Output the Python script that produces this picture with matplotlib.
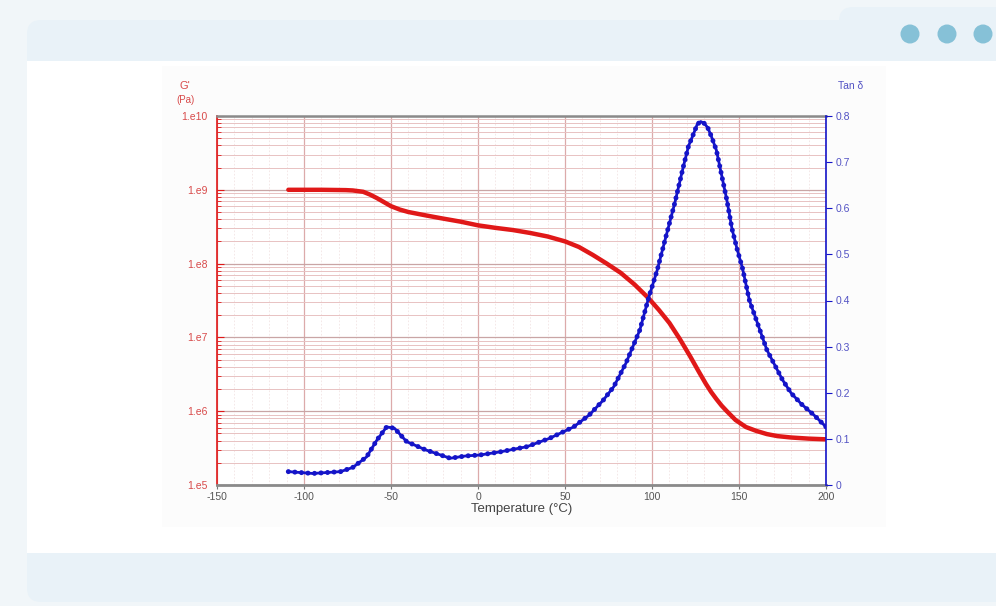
import matplotlib
matplotlib.use("Agg")
import matplotlib.pyplot as plt
from matplotlib.patches import FancyBboxPatch, Rectangle, Circle
from matplotlib.ticker import FixedLocator, NullFormatter, MultipleLocator

plt.rcParams["font.family"] = ["Liberation Sans", "DejaVu Sans"]

# --- Data ---
temp_g = [-109, -90, -76, -72, -66, -62, -58, -54, -50, -45, -40, -30, -22,
          -10, 0, 10, 20, 30, 40, 50, 58, 66, 74, 82, 90, 98, 104, 110, 116,
          122, 127, 131, 134, 137, 140, 143, 148, 154, 160, 166, 172, 180,
          190, 200]
g_prime = [1.0e9, 1.0e9, 9.9e8, 9.8e8, 9.4e8, 8.6e8, 7.7e8, 6.8e8, 6.0e8,
           5.4e8, 5.0e8, 4.5e8, 4.15e8, 3.7e8, 3.3e8, 3.05e8, 2.85e8, 2.6e8,
           2.33e8, 2.0e8, 1.68e8, 1.31e8, 1.0e8, 7.5e7, 5.2e7, 3.4e7, 2.35e7,
           1.57e7, 9.5e6, 5.5e6, 3.4e6, 2.34e6, 1.82e6, 1.46e6, 1.19e6,
           1.0e6, 7.6e5, 6.1e5, 5.4e5, 4.9e5, 4.6e5, 4.4e5, 4.25e5, 4.16e5]

temp_tan = [-109, -95, -79, -72, -64, -58, -52.5, -48, -41, -30, -16, -7, 1,
            13, 28, 41, 55, 64, 72, 78, 85, 93, 98, 103, 107, 113, 118, 121,
            124, 126, 128, 130, 132, 134, 137, 140, 143, 146, 149, 152, 156,
            162, 166, 170, 175, 180, 186, 193, 200]
tan_delta = [0.029, 0.025, 0.029, 0.038, 0.061, 0.098, 0.126, 0.123, 0.094,
             0.076, 0.058, 0.063, 0.065, 0.072, 0.083, 0.101, 0.126, 0.152,
             0.184, 0.213, 0.264, 0.336, 0.405, 0.466, 0.524, 0.61, 0.69,
             0.735, 0.7625, 0.782, 0.788, 0.784, 0.775, 0.757, 0.726, 0.672,
             0.618, 0.555, 0.51, 0.47, 0.40, 0.336, 0.293, 0.264, 0.228,
             0.199, 0.175, 0.152, 0.126]

x_ticks = [-150, -100, -50, 0, 50, 100, 150, 200]
g_ticks = [1e5, 1e6, 1e7, 1e8, 1e9, 1e10]
g_tick_labels = ["1.e5", "1.e6", "1.e7", "1.e8", "1.e9", "1.e10"]
tan_ticks = [0, 0.1, 0.2, 0.3, 0.4, 0.5, 0.6, 0.7, 0.8]
tan_tick_labels = ["0", "0.1", "0.2", "0.3", "0.4", "0.5", "0.6", "0.7", "0.8"]

RED = "#e01818"
BLUE = "#1414c8"
W, H = 996, 606

fig = plt.figure(figsize=(W / 100, H / 100), dpi=100, facecolor="#f1f6f9")

# --- Page frame (card, header, dots) in pixel coords ---
bg = fig.add_axes([0, 0, 1, 1])
bg.set_xlim(0, W)
bg.set_ylim(H, 0)
bg.axis("off")
bg.set_zorder(0)

bg.add_patch(FancyBboxPatch((839, 7), 200, 60, boxstyle="round,pad=0,rounding_size=14",
                            fc="#e9f2f8", ec="none"))
bg.add_patch(FancyBboxPatch((27, 20), 1000, 582, boxstyle="round,pad=0,rounding_size=14",
                            fc="#e9f2f8", ec="none"))
bg.add_patch(Rectangle((27, 61), 1000, 492, fc="white", ec="none"))
bg.add_patch(Rectangle((162, 66), 724, 461, fc="#fcfcfc", ec="none"))
for cx in (910, 947, 983):
    bg.add_patch(Circle((cx, 34), 9.5, fc="#86c1d7", ec="none"))

# --- Main axes: G' on log scale ---
ax = fig.add_axes([217 / W, 1 - 485 / H, 609 / W, 369 / H])
ax.set_zorder(1)
ax.set_facecolor("white")
ax.set_xlim(-150, 200)
ax.set_yscale("log")
ax.set_ylim(1e5, 1e10)

ax.plot(temp_g, g_prime, color=RED, lw=3.2, solid_capstyle="round",
        solid_joinstyle="round", zorder=3)

ax.set_xticks(x_ticks)
ax.set_xticklabels([str(t) for t in x_ticks])
ax.xaxis.set_minor_locator(MultipleLocator(10))
ax.set_yticks(g_ticks)
ax.set_yticklabels(g_tick_labels)
ax.yaxis.set_minor_locator(FixedLocator(
    [k * 10 ** e for e in range(5, 10) for k in range(2, 10)]))
ax.yaxis.set_minor_formatter(NullFormatter())

ax.grid(which="major", axis="x", color="#dcaaaa", lw=0.9)
ax.grid(which="minor", axis="x", color="#f3e4e4", lw=0.6, ls=(0, (2, 2)))
ax.grid(which="major", axis="y", color="#c9a5a5", lw=0.9)
ax.grid(which="minor", axis="y", color="#e8c2c2", lw=0.7)
ax.set_axisbelow(True)

ax.tick_params(axis="x", which="major", direction="out", length=3, width=0.8,
               color="#777777", labelsize=7.5, labelcolor="#555555", pad=2)
ax.tick_params(axis="x", which="minor", length=0)
ax.tick_params(axis="y", which="major", direction="in", length=5, width=0.8,
               color=RED, labelsize=7.5, labelcolor="#d84a4a", pad=7)
ax.tick_params(axis="y", which="minor", direction="in", length=3, width=0.6,
               color=RED)

ax.spines["left"].set_color(RED)
ax.spines["left"].set_linewidth(1.2)
ax.spines["bottom"].set_color("#8a8a8a")
ax.spines["bottom"].set_linewidth(2.0)
ax.spines["top"].set_color("#8a8a8a")
ax.spines["top"].set_linewidth(1.8)
ax.spines["right"].set_visible(False)

ax.set_xlabel("Temperature (°C)", fontsize=9.5, color="#444444", labelpad=1)

# --- Twin axes: tan delta ---
ax2 = ax.twinx()
ax2.set_zorder(2)
ax2.set_ylim(0, 0.8)
ax2.plot(temp_tan, tan_delta, color=BLUE, lw=2.0, solid_joinstyle="round", zorder=3)
ax2.plot(temp_tan, tan_delta, color=BLUE, lw=3.6, ls=(0, (0.01, 1.3)),
         dash_capstyle="round", zorder=4)
ax2.set_yticks(tan_ticks)
ax2.set_yticklabels(tan_tick_labels)
ax2.tick_params(axis="y", direction="out", length=4, width=0.8, color=BLUE,
                labelsize=7.5, labelcolor="#5252c4", pad=3)
ax2.spines["right"].set_color(BLUE)
ax2.spines["right"].set_linewidth(1.2)
for side in ("left", "top", "bottom"):
    ax2.spines[side].set_visible(False)

# --- Axis titles ---
fig.text(185 / W, 1 - 86 / H, "G'", color="#d84a4a", fontsize=8, ha="center", va="center")
fig.text(185 / W, 1 - 100 / H, "(Pa)", color="#d84a4a", fontsize=7, ha="center", va="center")
fig.text(851 / W, 1 - 86 / H, "Tan δ", color="#5252c4", fontsize=7.5, ha="center", va="center")

plt.savefig("out.png", dpi=100, facecolor=fig.get_facecolor())
plt.close()
